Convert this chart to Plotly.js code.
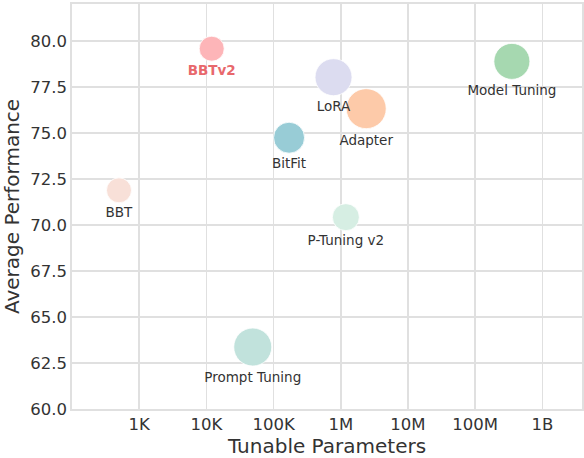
<!DOCTYPE html>
<html>
<head>
<meta charset="utf-8">
<script src="https://cdn.plot.ly/plotly-3.0.1.min.js"></script>
<style>
  html, body { margin: 0; padding: 0; background: #fff; }
  #chart { width: 584px; height: 458px; }
</style>
</head>
<body>
<div id="chart"></div>
<script>
"use strict";

// methods
const methods = ["BBT", "BBTv2", "Prompt Tuning", "BitFit", "LoRA", "P-Tuning v2", "Adapter", "Model Tuning"];
const params = [500, 12000, 49000, 170000, 780000, 1190000, 2390000, 352000000];
const performance = [71.89, 79.59, 63.37, 74.75, 78.04, 70.43, 76.33, 78.9];
const bubbleSize = [25, 25, 38, 31, 37, 27, 40, 36];
const colors = ["#f8e0d8", "#fdb5b8", "#c1e2dc", "#98ccd6", "#dcdcf0", "#d6eee3", "#fdcaa9", "#a6d8b0"];

const tickVals = [1e3, 1e4, 1e5, 1e6, 1e7, 1e8, 1e9];
const tickText = ["1K", "10K", "100K", "1M", "10M", "100M", "1B"];

const highlight = "BBTv2";

const labels = methods.map(m => m === highlight ? "<b>" + m + "</b>" : m);
const labelColors = methods.map(m => m === highlight ? "#e8686c" : "#333333");

const font = "DejaVu Sans, sans-serif";
const gridColor = "#e0e0e0";

const trace = {
    type: "scatter",
    mode: "markers+text",
    x: params,
    y: performance,
    text: labels,
    textposition: "bottom center",
    textfont: { family: font, size: 13.5, color: labelColors },
    marker: {
        size: bubbleSize,
        color: colors,
        opacity: 1,
        line: { color: "#ffffff", width: 0.8 },
    },
    hoverinfo: "skip",
    cliponaxis: false,
};

const layout = {
    width: 584,
    height: 458,
    showlegend: false,
    paper_bgcolor: "#ffffff",
    plot_bgcolor: "#ffffff",
    font: { family: font, color: "#333333" },
    margin: { l: 72, r: 2, t: 4, b: 49, pad: 0 },
    xaxis: {
        type: "log",
        range: [2.0, 9.59],
        tickvals: tickVals,
        ticktext: tickText,
        tickfont: { size: 16.5, color: "#333333" },
        showgrid: true,
        gridcolor: gridColor,
        gridwidth: 1.6,
        showline: true,
        linecolor: gridColor,
        linewidth: 1.6,
        mirror: true,
        zeroline: false,
        ticks: "",
        title: { text: "Tunable Parameters", font: { size: 20, color: "#333333" }, standoff: 8 },
        automargin: false,
    },
    yaxis: {
        range: [60, 82.02],
        tick0: 60,
        dtick: 2.5,
        tickformat: ".1f",
        tickfont: { size: 16.5, color: "#333333" },
        showgrid: true,
        gridcolor: gridColor,
        gridwidth: 1.6,
        showline: true,
        linecolor: gridColor,
        linewidth: 1.6,
        mirror: true,
        zeroline: false,
        ticks: "",
        title: { text: "Average Performance", font: { size: 20, color: "#333333" }, standoff: 8 },
        automargin: false,
    },
};

Plotly.newPlot("chart", [trace], layout, { displayModeBar: false, staticPlot: true });
</script>
</body>
</html>
